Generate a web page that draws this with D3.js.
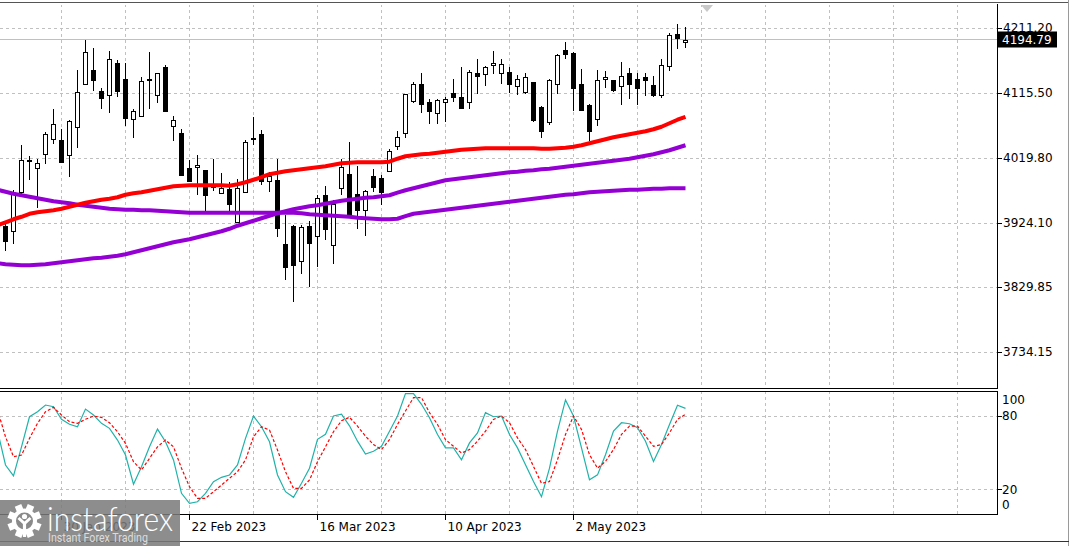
<!DOCTYPE html>
<html><head><meta charset="utf-8">
<script src="https://cdn.jsdelivr.net/npm/d3@7"></script>
<style>
html,body{margin:0;padding:0;background:#fff;overflow:hidden;}
svg{display:block;}
</style></head>
<body><svg id="c" width="1072" height="546"></svg>
<script>
// ---------- DATA ----------
const dates = ["2023-01-19","2023-01-20","2023-01-23","2023-01-24","2023-01-25","2023-01-26","2023-01-27","2023-01-30","2023-01-31",
"2023-02-01","2023-02-02","2023-02-03","2023-02-06","2023-02-07","2023-02-08","2023-02-09","2023-02-10","2023-02-13","2023-02-14","2023-02-15","2023-02-16","2023-02-17","2023-02-21","2023-02-22","2023-02-23","2023-02-24","2023-02-27","2023-02-28",
"2023-03-01","2023-03-02","2023-03-03","2023-03-06","2023-03-07","2023-03-08","2023-03-09","2023-03-10","2023-03-13","2023-03-14","2023-03-15","2023-03-16","2023-03-17","2023-03-20","2023-03-21","2023-03-22","2023-03-23","2023-03-24","2023-03-27","2023-03-28","2023-03-29","2023-03-30","2023-03-31",
"2023-04-03","2023-04-04","2023-04-05","2023-04-06","2023-04-10","2023-04-11","2023-04-12","2023-04-13","2023-04-14","2023-04-17","2023-04-18","2023-04-19","2023-04-20","2023-04-21","2023-04-24","2023-04-25","2023-04-26","2023-04-27","2023-04-28",
"2023-05-01","2023-05-02","2023-05-03","2023-05-04","2023-05-05","2023-05-08","2023-05-09","2023-05-10","2023-05-11","2023-05-12","2023-05-15","2023-05-16","2023-05-17","2023-05-18","2023-05-19","2023-05-22"];

const open = [3920.1,3913.2,3971.2,4018.0,4006.6,4027.2,4049.2,4046.7,4025.7,4066.3,
4128.8,4149.8,4118.9,4114.0,4161.1,4136.5,4078.7,4082.5,4137.6,4112.6,
4153.8,4068.4,4058.1,4005.5,4007.4,4002.6,3978.0,3969.2,3975.6,3926.5,
3970.6,4049.0,4055.6,3986.8,3987.9,3893.6,3920.1,3869.6,3921.2,3906.4,
3966.2,3893.2,3977.1,3996.7,3967.2,3944.7,3994.8,3991.8,4002.1,4037.9,
4058.1,4104.2,4129.2,4103.7,4086.1,4103.1,4116.4,4111.1,4103.7,4145.4,
4144.4,4158.2,4145.8,4146.9,4127.3,4117.4,4132.1,4095.8,4074.3,4129.2,
4179.3,4175.3,4129.2,4098.3,4078.1,4136.6,4135.1,4126.7,4145.8,4137.6,
4139.1,4127.7,4114.0,4155.7,4203.8,4190.6];
const high = [3925.0,3973.1,4039.4,4024.0,4019.8,4058.9,4093.4,4064.0,4077.2,4149.8,
4195.0,4181.8,4124.3,4177.8,4164.5,4159.7,4093.4,4139.1,4175.9,4145.8,
4158.2,4082.1,4063.0,4017.3,4025.7,4003.0,4018.8,3999.2,3985.3,3990.4,
4047.8,4081.1,4062.5,4000.1,4018.8,3936.3,3921.6,3921.6,3927.9,3966.8,
3979.0,3958.4,4019.8,4044.2,4008.5,3973.5,4005.0,3996.2,4034.5,4060.0,
4115.5,4132.6,4145.0,4108.1,4108.1,4110.5,4137.6,4153.8,4149.8,4167.0,
4155.7,4177.8,4167.0,4154.7,4142.4,4145.8,4132.1,4096.8,4137.6,4173.0,
4190.6,4176.3,4152.3,4100.8,4149.8,4148.3,4136.1,4162.0,4153.2,4145.0,
4145.8,4141.0,4167.0,4204.7,4217.5,4213.6];
const low = [3883.8,3894.7,3968.3,3988.9,3947.6,4012.4,4041.9,4014.0,3992.7,4036.0,
4128.0,4119.3,4092.4,4087.0,4110.5,4067.4,4050.1,4081.0,4092.4,4101.7,
4088.4,4045.7,3994.2,3985.3,3966.2,3942.2,3972.1,3968.3,3941.2,3926.0,
3970.6,4039.4,3980.5,3970.6,3904.4,3840.6,3808.7,3850.5,3830.8,3860.2,
3899.5,3865.2,3965.8,3935.0,3916.1,3905.8,3970.6,3952.0,4001.1,4032.0,
4050.1,4102.2,4087.0,4071.3,4069.9,4073.7,4103.1,4092.4,4092.4,4114.5,
4126.7,4143.5,4130.2,4116.4,4114.0,4114.5,4073.2,4050.1,4068.8,4115.5,
4167.0,4089.9,4089.9,4045.7,4067.4,4122.9,4117.9,4098.3,4108.1,4099.3,
4111.5,4110.5,4109.0,4148.8,4180.3,4181.8];
const close = [3898.5,3969.2,4018.3,4016.0,4013.9,4056.6,4069.9,4014.8,4074.7,4117.9,
4176.8,4135.1,4109.0,4167.0,4119.3,4079.6,4090.5,4134.6,4135.1,4145.0,
4089.4,4077.2,3995.6,3986.8,4011.0,3966.2,3983.0,3976.5,3953.5,3977.1,
4044.8,4050.0,3986.8,3993.7,3917.6,3860.2,3863.7,3918.6,3895.6,3962.4,
3916.2,3953.5,4007.4,3936.3,3944.7,3972.7,3978.0,3970.6,4030.5,4051.6,
4114.5,4128.8,4100.8,4089.9,4105.6,4108.1,4110.5,4094.3,4147.9,4141.4,
4153.8,4161.1,4158.7,4128.8,4137.6,4140.5,4076.2,4060.4,4136.1,4171.9,
4174.4,4123.7,4091.9,4060.4,4135.1,4139.6,4120.4,4141.0,4130.2,4124.3,
4135.1,4113.0,4158.2,4201.3,4197.9,4194.8];

// indicator series start one bar earlier (2023-01-18) than the candles
const indicatorStart = "2023-01-18";
const maRed = [3921.6,3926.0,3930.4,3934.1,3938.5,3940.7,3942.2,3943.7,3945.9,3948.8,
3951.8,3954.7,3956.9,3959.1,3960.6,3962.8,3966.5,3968.7,3970.2,3972.4,
3974.6,3976.8,3979.0,3979.8,3980.5,3980.5,3980.5,3980.5,3980.5,3979.8,
3982.0,3984.9,3988.6,3992.3,3996.7,3998.9,4001.1,4002.6,4004.0,4005.5,
4007.0,4008.5,4010.7,4012.9,4013.6,4014.4,4014.4,4014.4,4014.4,4015.1,
4019.5,4023.2,4024.7,4026.1,4026.9,4028.3,4029.8,4031.3,4032.8,4033.5,
4034.2,4035.0,4035.0,4035.0,4035.0,4035.0,4035.0,4035.0,4034.2,4034.2,
4035.0,4035.7,4037.2,4039.4,4042.3,4045.3,4048.2,4051.2,4053.4,4055.6,
4057.8,4060.0,4062.9,4066.6,4071.8,4076.9,4081.3];
const maSlow = [3973.9,3970.9,3968.0,3965.8,3963.6,3961.4,3959.1,3956.9,3955.5,3954.0,
3951.8,3950.3,3948.8,3947.4,3945.9,3945.2,3944.4,3944.4,3943.7,3943.7,
3942.9,3942.2,3941.5,3940.7,3940.0,3940.0,3940.0,3940.0,3940.0,3940.0,
3940.0,3940.0,3940.0,3940.0,3940.0,3940.0,3940.0,3940.0,3939.3,3937.8,
3937.1,3936.3,3935.6,3934.9,3934.1,3932.6,3931.9,3931.2,3930.4,3930.4,
3931.2,3934.9,3938.5,3940.0,3941.5,3942.9,3944.4,3945.9,3947.4,3948.8,
3950.3,3951.8,3953.3,3954.7,3956.2,3957.7,3959.1,3960.6,3962.1,3963.6,
3965.0,3966.5,3967.2,3968.7,3970.2,3970.9,3971.7,3972.4,3973.1,3973.9,
3973.9,3974.6,3975.3,3975.3,3976.1,3976.1,3976.1];
const maMid = [3865.6,3864.2,3863.4,3862.7,3862.7,3863.4,3864.2,3865.6,3867.1,3868.6,
3870.1,3871.5,3873.0,3873.8,3875.2,3876.7,3878.9,3881.8,3884.8,3887.7,
3890.7,3893.6,3896.6,3898.8,3901.0,3903.9,3906.9,3909.8,3912.8,3916.4,
3920.9,3924.5,3928.2,3931.9,3935.6,3939.3,3942.2,3945.2,3947.4,3949.6,
3951.0,3953.3,3955.5,3957.7,3959.1,3960.6,3962.1,3962.8,3964.3,3965.8,
3969.5,3973.1,3976.1,3979.0,3982.0,3984.9,3987.9,3989.3,3990.8,3992.3,
3993.7,3995.2,3996.7,3998.2,3999.6,4000.4,4001.8,4002.6,4004.0,4004.8,
4006.3,4007.7,4009.2,4010.7,4012.1,4013.6,4015.1,4016.6,4018.0,4019.5,
4021.7,4023.9,4026.1,4029.1,4032.0,4035.7,4039.4];
const stochMain = [68,39.9,30.9,54.8,79.4,83.5,89.0,87.6,77.3,73.2,
71.2,85.7,80.8,74.0,69.9,60.3,48.0,24.1,38.5,54.8,
69.3,58.9,44.0,16.7,8.5,9.8,16.7,26.2,29.8,31.7,
39.9,61.7,80.0,71.2,58.9,31.7,18.0,13.4,24.9,37.2,
60.9,65.0,80.0,81.6,72.0,59.4,48.9,51.1,55.2,67.6,
80.0,98.4,98.4,89.6,78.6,64.9,53.9,53.9,44.2,58.0,
66.2,82.8,79.4,80.0,64.9,53.9,40.1,26.3,13.9,37.3,
67.6,93.2,80.0,53.9,27.7,31.8,48.3,67.6,74.5,73.7,
70.4,59.4,42.8,56.6,73.1,88.8,86.3];
const stochSignal = [85,63.0,46.7,48.0,61.7,74.0,83.5,87.1,80.8,75.3,
74.0,77.3,80.0,78.9,74.5,67.1,57.6,42.6,35.8,45.3,
54.8,60.3,54.8,37.2,22.1,12.6,12.6,18.0,23.5,29.0,
34.4,44.0,63.0,71.2,68.5,52.1,34.4,20.8,20.8,27.6,
42.6,54.8,67.1,76.1,79.0,71.7,63.5,56.6,52.5,60.7,
73.1,84.1,95.1,95.1,82.8,73.1,60.7,55.2,49.7,52.5,
59.4,67.6,77.2,80.0,74.5,62.1,52.5,38.7,24.9,26.3,
44.2,64.9,80.0,69.0,48.3,37.3,42.8,52.5,64.9,71.7,
71.7,63.5,55.2,56.6,66.2,77.2,81.4];

const priceTicks = [4211.20, 4115.50, 4019.80, 3924.10, 3829.85, 3734.15];
const stochLevels = [100, 80, 20, 0];
const stochGridLevels = [80, 20];
const dateTickDates = ["2023-01-30","2023-02-22","2023-03-16","2023-04-10","2023-05-02"];
const dateTickLabels = ["30 Jan 2023","22 Feb 2023","16 Mar 2023","10 Apr 2023","2 May 2023"];
const bidPrice = 4194.79;

// ---------- LAYOUT ----------
const FONT = "'DejaVu Sans', Verdana, sans-serif";
const plotR = 997, mainTop = 4, mainBot = 388, stTop = 391, stBot = 514;
const svg = d3.select("#c");

const x = d3.scaleLinear().domain([0, dates.length - 1]).range([5.5, 685.5]);
const y = d3.scaleLinear().domain([3734.15, 4211.20]).range([352.6, 28.5]);
const ys = d3.scaleLinear().domain([0, 100]).range([513.7, 391.6]);
const crisp = v => Math.floor(v) + 0.5;

const defs = svg.append("defs");
defs.append("clipPath").attr("id","cm").append("rect").attr("x",0).attr("y",mainTop+1).attr("width",plotR).attr("height",mainBot-mainTop-1);
defs.append("clipPath").attr("id","cs").append("rect").attr("x",0).attr("y",stTop+1).attr("width",plotR).attr("height",stBot-stTop-1);

svg.append("rect").attr("width",1072).attr("height",546).attr("fill","#fff");

// vertical grid positions: every 8 bars through the Jan 30 bar
const idx0 = dates.indexOf("2023-01-30");
const vgrid = d3.range(-1, 15).map(k => x(idx0 + 8*k)).filter(v => v > 0 && v < plotR);

const gridStyle = sel => sel.attr("stroke","#c0c0c0").attr("stroke-width",1).attr("stroke-dasharray","3,3").attr("shape-rendering","crispEdges");

// main grid
const gm = svg.append("g").attr("clip-path","url(#cm)");
gm.selectAll("line.h").data(priceTicks).join("line").attr("class","h")
  .attr("x1",0).attr("x2",plotR).attr("y1",d=>crisp(y(d))).attr("y2",d=>crisp(y(d))).call(gridStyle);
gm.selectAll("line.v").data(vgrid).join("line").attr("class","v")
  .attr("x1",d=>crisp(d)).attr("x2",d=>crisp(d)).attr("y1",mainTop).attr("y2",mainBot).call(gridStyle);
// bid line
gm.append("line").attr("x1",0).attr("x2",plotR).attr("y1",crisp(y(bidPrice))).attr("y2",crisp(y(bidPrice)))
  .attr("stroke","#c0c0c0").attr("shape-rendering","crispEdges");

// candles
const bars = d3.range(dates.length);
const cg = gm.append("g").attr("shape-rendering","crispEdges");
cg.selectAll("line.w").data(bars).join("line").attr("class","w")
  .attr("x1",i=>crisp(x(i))).attr("x2",i=>crisp(x(i)))
  .attr("y1",i=>Math.round(y(high[i]))).attr("y2",i=>Math.round(y(low[i])))
  .attr("stroke","#000");
cg.selectAll("rect.b").data(bars).join("rect").attr("class","b")
  .attr("x",i=>crisp(x(i))-2)
  .attr("y",i=>Math.round(y(Math.max(open[i],close[i])))+0.5)
  .attr("width",4)
  .attr("height",i=>Math.max(1, Math.round(y(Math.min(open[i],close[i]))) - Math.round(y(Math.max(open[i],close[i])))))
  .attr("fill",i=>close[i]>=open[i] ? "#fff" : "#000")
  .attr("stroke","#000");

// moving averages (index offset -1 : start one bar before first candle)
const maLine = d3.line().x((d,i)=>x(i-1)).y(d=>y(d));
[[maSlow,"#9400d3"],[maMid,"#9400d3"],[maRed,"#ff0000"]].forEach(([s,c])=>{
  gm.append("path").attr("d",maLine(s)).attr("fill","none").attr("stroke",c).attr("stroke-width",4).attr("stroke-linejoin","round");
});

// shift marker
svg.append("path").attr("d","M701,5 L713,5 L707,12 Z").attr("fill","#c8c8c8");

// stochastic panel
const gs = svg.append("g").attr("clip-path","url(#cs)");
gs.selectAll("line.h").data(stochGridLevels).join("line").attr("class","h")
  .attr("x1",0).attr("x2",plotR).attr("y1",d=>crisp(ys(d))).attr("y2",d=>crisp(ys(d))).call(gridStyle);
gs.selectAll("line.v").data(vgrid).join("line").attr("class","v")
  .attr("x1",d=>crisp(d)).attr("x2",d=>crisp(d)).attr("y1",stTop).attr("y2",stBot).call(gridStyle);
const stLine = d3.line().x((d,i)=>x(i-1)).y(d=>ys(d));
gs.append("path").attr("d",stLine(stochMain)).attr("fill","none").attr("stroke","#20b2aa").attr("stroke-width",1.2);
gs.append("path").attr("d",stLine(stochSignal)).attr("fill","none").attr("stroke","#ff0000").attr("stroke-width",1.2).attr("stroke-dasharray","3,2");

// frames
const frame = svg.append("g").attr("stroke","#000").attr("shape-rendering","crispEdges");
frame.append("line").attr("x1",0).attr("x2",1068).attr("y1",2.5).attr("y2",2.5).attr("stroke","#555");
frame.append("line").attr("x1",0).attr("x2",plotR+0.5).attr("y1",mainBot+0.5).attr("y2",mainBot+0.5);
frame.append("line").attr("x1",0).attr("x2",plotR+0.5).attr("y1",stTop+0.5).attr("y2",stTop+0.5);
frame.append("line").attr("x1",0).attr("x2",plotR+0.5).attr("y1",stBot+0.5).attr("y2",stBot+0.5);
frame.append("line").attr("x1",plotR+0.5).attr("x2",plotR+0.5).attr("y1",mainTop).attr("y2",mainBot+1);
frame.append("line").attr("x1",plotR+0.5).attr("x2",plotR+0.5).attr("y1",stTop).attr("y2",stBot+1);
frame.append("line").attr("x1",1068.5).attr("x2",1068.5).attr("y1",0).attr("y2",546).attr("stroke","#9a9a9a");
frame.append("line").attr("x1",0).attr("x2",1069).attr("y1",541.5).attr("y2",541.5).attr("stroke","#333");

// price axis
const ay = svg.append("g").attr("transform",`translate(${plotR+0.5},0)`)
  .call(d3.axisRight(y).tickValues(priceTicks).tickFormat(d3.format(".2f")).tickSize(4).tickPadding(1.5));
ay.select(".domain").remove();
ay.selectAll(".tick line").attr("stroke","#000").attr("shape-rendering","crispEdges")
  .attr("transform",function(){return null;});
ay.selectAll(".tick").attr("transform",d=>`translate(0,${crisp(y(d))})`);
ay.selectAll("text").attr("font-family",FONT).attr("font-size",12).attr("fill","#000");

// bid box
const by = crisp(y(bidPrice));
svg.append("rect").attr("x",998).attr("y",by-8).attr("width",59).attr("height",16).attr("fill","#000");
svg.append("text").attr("x",1002).attr("y",by+4.5).attr("font-family",FONT).attr("font-size",12).attr("fill","#fff").text(d3.format(".2f")(bidPrice));

// stochastic labels
const stLabelY = {100: ys(100)+8.5, 80: ys(80), 20: ys(20), 0: ys(0)-9};
svg.append("g").selectAll("line").data(stochGridLevels).join("line")
  .attr("x1",plotR+0.5).attr("x2",plotR+4.5).attr("y1",d=>crisp(ys(d))).attr("y2",d=>crisp(ys(d)))
  .attr("stroke","#000").attr("shape-rendering","crispEdges");
svg.append("g").selectAll("text").data(stochLevels).join("text")
  .attr("x",1002).attr("y",d=>stLabelY[d]).attr("dy","0.36em")
  .attr("font-family",FONT).attr("font-size",12).attr("fill","#000").text(d=>d);

// date axis
const tickIdx = dateTickDates.map(d=>dates.indexOf(d));
const ax = svg.append("g").attr("transform",`translate(0,${stBot+0.5})`)
  .call(d3.axisBottom(x).tickValues(tickIdx).tickFormat((d,i)=>dateTickLabels[i]).tickSize(5).tickPadding(3));
ax.select(".domain").remove();
ax.selectAll(".tick").attr("transform",d=>`translate(${crisp(x(d))},0)`);
ax.selectAll(".tick line").attr("stroke","#000").attr("shape-rendering","crispEdges");
ax.selectAll("text").attr("font-family",FONT).attr("font-size",12).attr("fill","#000")
  .attr("text-anchor","start").attr("x",2);

// watermark logo
const logo = svg.append("g");
logo.append("rect").attr("x",0).attr("y",500).attr("width",180).attr("height",46).attr("fill","#7a7a7a").attr("opacity",0.86);
const gear = logo.append("g").attr("transform","translate(24.5,521)");
d3.range(8).forEach(k=>{
  gear.append("rect").attr("x",-3.5).attr("y",-17).attr("width",7).attr("height",8).attr("fill","#fff").attr("transform",`rotate(${k*45+22.5})`);
});
gear.append("circle").attr("r",12.5).attr("fill","#fff");
gear.append("circle").attr("r",8.5).attr("fill","#8a8a8a");
gear.append("circle").attr("cy",-4.5).attr("r",2.6).attr("fill","#fff");
gear.append("path").attr("d","M-7,-2 L-1.6,3 L-1.6,16 L1.6,16 L1.6,3 L7,-2 L5,-4 L0,0.5 L-5,-4 Z").attr("fill","#fff");
logo.append("text").attr("x",47).attr("y",531).attr("font-family","Lato, 'Open Sans', sans-serif").attr("font-weight",300)
  .attr("font-size",34).attr("fill","#fff").attr("textLength",126).attr("lengthAdjust","spacingAndGlyphs").text("instaforex");
logo.append("text").attr("x",48).attr("y",542).attr("font-family","Roboto, 'DejaVu Sans', sans-serif")
  .attr("font-size",12.5).attr("fill","#dcdcdc").attr("textLength",100).attr("lengthAdjust","spacingAndGlyphs").text("Instant Forex Trading");
</script>
</body></html>
